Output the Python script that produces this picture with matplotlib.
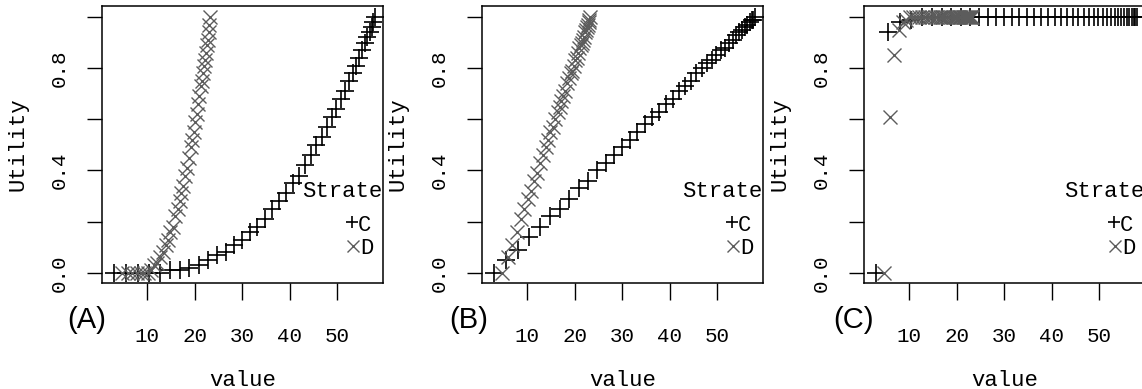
import matplotlib.pyplot as plt

# value at which each utility was evaluated, per strategy
value_c = [3.0, 5.5, 8.0, 10.4, 12.6, 14.8, 16.9, 18.9, 20.9, 22.8, 24.7, 26.5,
           28.3, 30.0, 31.6, 33.2, 34.8, 36.3, 37.8, 39.2, 40.6, 41.9, 43.2, 44.4,
           45.6, 46.7, 47.8, 48.8, 49.8, 50.7, 51.6, 52.4, 53.2, 53.9, 54.6, 55.2,
           55.8, 56.3, 56.8, 57.2, 57.6, 58.0]
value_d = [4.8, 5.9, 6.9, 7.8, 8.6, 9.4, 10.1, 10.8, 11.5, 12.1, 12.7, 13.3,
           13.9, 14.4, 14.9, 15.4, 15.9, 16.4, 16.8, 17.2, 17.6, 18.0, 18.4, 18.8,
           19.2, 19.5, 19.8, 20.1, 20.4, 20.7, 21.0, 21.3, 21.5, 21.7, 21.9, 22.1,
           22.3, 22.5, 22.7, 22.9, 23.1, 23.3]

# (A) risk-seeking utility
util_c_a = [0.00, 0.00, 0.00, 0.00, 0.00, 0.01, 0.01, 0.02, 0.03, 0.05, 0.07, 0.08,
            0.11, 0.13, 0.16, 0.18, 0.21, 0.25, 0.28, 0.31, 0.35, 0.38, 0.42, 0.46,
            0.50, 0.53, 0.57, 0.61, 0.64, 0.68, 0.71, 0.75, 0.78, 0.81, 0.84, 0.87,
            0.90, 0.92, 0.94, 0.96, 0.98, 1.00]
util_d_a = [0.00, 0.00, 0.00, 0.00, 0.00, 0.00, 0.00, 0.01, 0.03, 0.04, 0.06, 0.08,
            0.11, 0.13, 0.16, 0.18, 0.22, 0.25, 0.28, 0.31, 0.34, 0.38, 0.41, 0.45,
            0.49, 0.52, 0.55, 0.59, 0.62, 0.66, 0.69, 0.73, 0.75, 0.78, 0.81, 0.83,
            0.86, 0.89, 0.91, 0.94, 0.97, 1.00]

# (B) risk-neutral utility
util_c_b = [0.00, 0.05, 0.09, 0.14, 0.18, 0.22, 0.25, 0.29, 0.33, 0.36, 0.40, 0.43,
            0.46, 0.49, 0.52, 0.55, 0.58, 0.61, 0.63, 0.66, 0.68, 0.71, 0.73, 0.75,
            0.78, 0.80, 0.82, 0.83, 0.85, 0.87, 0.88, 0.90, 0.91, 0.93, 0.94, 0.95,
            0.96, 0.97, 0.98, 0.99, 0.99, 1.00]
util_d_b = [0.00, 0.06, 0.11, 0.16, 0.21, 0.25, 0.29, 0.32, 0.36, 0.39, 0.43, 0.46,
            0.49, 0.52, 0.55, 0.57, 0.60, 0.63, 0.65, 0.67, 0.69, 0.71, 0.74, 0.76,
            0.78, 0.79, 0.81, 0.83, 0.84, 0.86, 0.88, 0.89, 0.90, 0.91, 0.92, 0.94,
            0.95, 0.96, 0.97, 0.98, 0.99, 1.00]

# (C) risk-averse utility
util_c_c = [0.00, 0.94, 0.98, 0.99, 1.00, 1.00, 1.00, 1.00, 1.00, 1.00, 1.00, 1.00,
            1.00, 1.00, 1.00, 1.00, 1.00, 1.00, 1.00, 1.00, 1.00, 1.00, 1.00, 1.00,
            1.00, 1.00, 1.00, 1.00, 1.00, 1.00, 1.00, 1.00, 1.00, 1.00, 1.00, 1.00,
            1.00, 1.00, 1.00, 1.00, 1.00, 1.00]
util_d_c = [0.00, 0.61, 0.85, 0.95, 0.98, 0.99, 1.00, 1.00, 1.00, 1.00, 1.00, 1.00,
            1.00, 1.00, 1.00, 1.00, 1.00, 1.00, 1.00, 1.00, 1.00, 1.00, 1.00, 1.00,
            1.00, 1.00, 1.00, 1.00, 1.00, 1.00, 1.00, 1.00, 1.00, 1.00, 1.00, 1.00,
            1.00, 1.00, 1.00, 1.00, 1.00, 1.00]

panel_labels = ['(A)', '(B)', '(C)']
x_ticks = [10, 20, 30, 40, 50]
y_ticks = [0.0, 0.2, 0.4, 0.6, 0.8, 1.0]
y_tick_labels = ['0.0', '', '0.4', '', '0.8', '']

W, H = 1142, 389
mono = 'Liberation Mono'
gray = '#5c5c5c'

fig = plt.figure(figsize=(W / 100, H / 100), dpi=100)

lefts = [102, 482, 864]
label_x = [-0.053, -0.049, -0.038]
curves = [(util_c_a, util_d_a), (util_c_b, util_d_b), (util_c_c, util_d_c)]

for i, (uc, ud) in enumerate(curves):
    ax = fig.add_axes([lefts[i] / W, (H - 283) / H, 281 / W, 277 / H])
    ax.plot(value_c, uc, ls='none', marker='+', ms=13, mew=1.2, color='black')
    ax.plot(value_d, ud, ls='none', marker='x', ms=9.5, mew=1.0, color=gray)

    ax.set_xlim(0.5, 59.6)
    ax.set_ylim(-0.04, 1.043)
    ax.set_xticks(x_ticks)
    ax.set_xticklabels([str(t) for t in x_ticks], family=mono, fontsize=15)
    ax.set_yticks(y_ticks)
    ax.set_yticklabels(y_tick_labels, family=mono, fontsize=15, rotation=90, va='center')
    ax.tick_params(axis='x', length=12, width=1, pad=20)
    ax.tick_params(axis='y', length=11, width=1, pad=13)
    for s in ax.spines.values():
        s.set_linewidth(1.1)

    ax.set_xlabel('value', family=mono, fontsize=16)
    ax.xaxis.set_label_coords(0.5, -0.314)
    ax.set_ylabel('Utility', family=mono, fontsize=16)
    ax.yaxis.set_label_coords(-0.263, 0.5)

    # key, cut off by the panel border as in the original layout
    ax.text(0.712, 0.329, 'Strategy', transform=ax.transAxes, ha='left', va='center',
            family=mono, fontsize=16, clip_on=True)
    ax.plot([0.889], [0.221], transform=ax.transAxes, marker='+', ms=9, mew=1.2,
            color='black', ls='none')
    ax.text(0.911, 0.209, 'C', transform=ax.transAxes, ha='left', va='center',
            family=mono, fontsize=16)
    ax.plot([0.894], [0.134], transform=ax.transAxes, marker='x', ms=8, mew=1.0,
            color=gray, ls='none')
    ax.text(0.918, 0.126, 'D', transform=ax.transAxes, ha='left', va='center',
            family=mono, fontsize=16)

    ax.text(label_x[i], -0.134, panel_labels[i], transform=ax.transAxes,
            ha='center', va='center', family='Liberation Sans', fontsize=21,
            clip_on=False)

fig.savefig('out.png', dpi=100)
